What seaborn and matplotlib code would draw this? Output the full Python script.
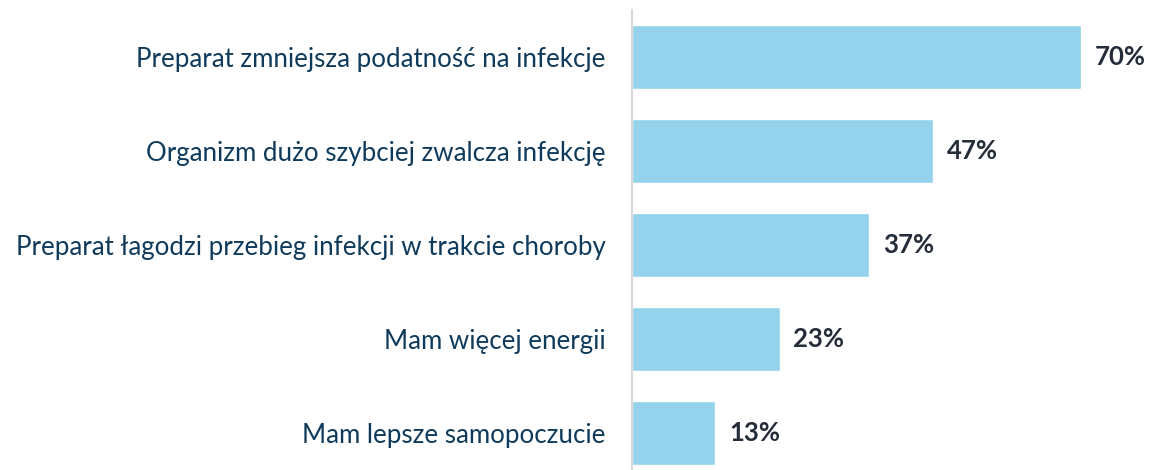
import matplotlib
matplotlib.use("Agg")
import matplotlib.pyplot as plt
import seaborn as sns
import pandas as pd

categories = [
    "Preparat zmniejsza podatność na infekcje",
    "Organizm dużo szybciej zwalcza infekcję",
    "Preparat łagodzi przebieg infekcji w trakcie choroby",
    "Mam więcej energii",
    "Mam lepsze samopoczucie",
]
values = [70, 47, 37, 23, 13]

sns.set_theme(style="white")
plt.rcParams["font.family"] = ["Lato", "DejaVu Sans"]

df = pd.DataFrame({"category": categories, "value": values})

fig = plt.figure(figsize=(11.5, 4.7), dpi=100)
ax = fig.add_axes([632 / 1150, 0.0, 1 - 632 / 1150, 1 - 10 / 470])

sns.barplot(data=df, x="value", y="category", color="#95D3EC",
            saturation=1, width=0.68, ax=ax)

ax.set_xlim(0, 518 / 6.414)
ax.set_ylim(4 + 37 / 94, -0.5)
ax.set_xlabel("")
ax.set_ylabel("")
ax.set_xticks([])

for side in ["top", "right", "bottom"]:
    ax.spines[side].set_visible(False)
ax.spines["left"].set_color("#D9D9D9")
ax.spines["left"].set_linewidth(1.5)

ax.tick_params(axis="y", length=0, pad=19, labelsize=18.6, labelcolor="#0E3A5B")

for i, v in enumerate(values):
    ax.annotate(f"{v}%", xy=(v, i), xytext=(10, 0), textcoords="offset points",
                ha="left", va="center", fontsize=18.5, fontweight="bold",
                color="#262D3A")

fig.savefig("out.png", dpi=100)
